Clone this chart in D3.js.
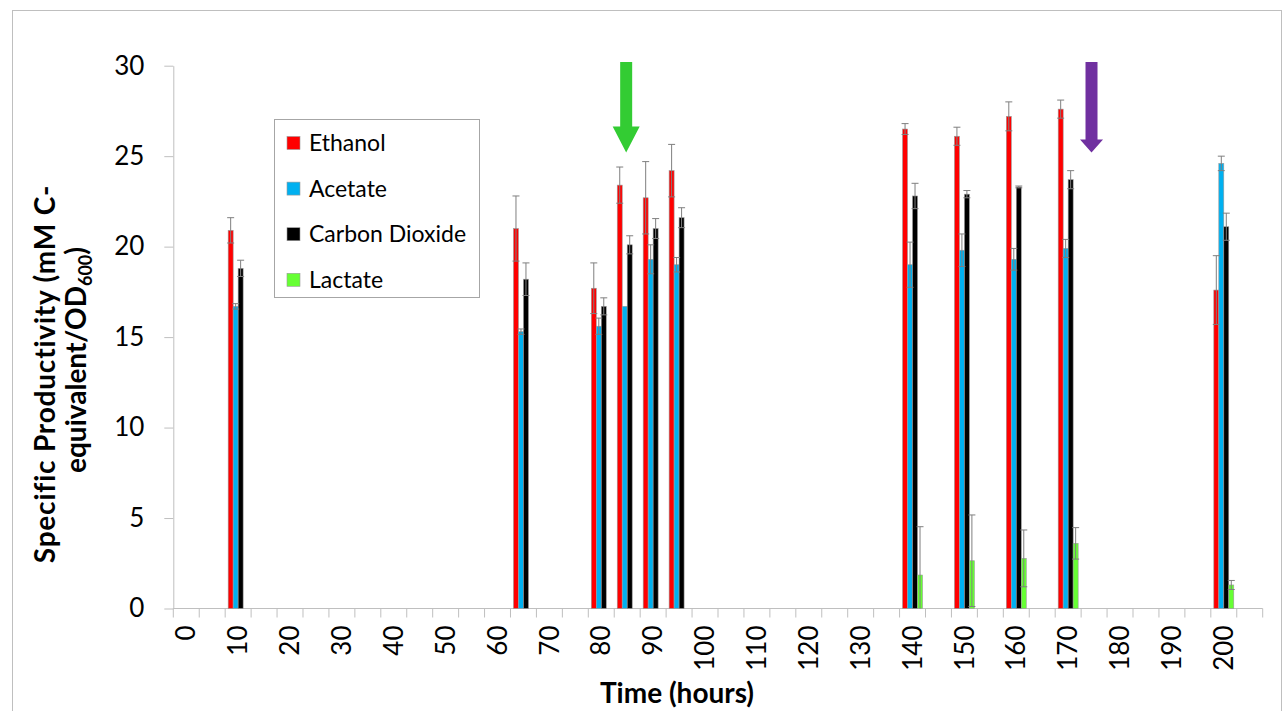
<!DOCTYPE html>
<html>
<head>
<meta charset="utf-8">
<script src="https://cdn.jsdelivr.net/npm/d3@7"></script>
<style>
  html, body { margin: 0; padding: 0; background: #fff; }
  svg { display: block; }
  text { font-family: Lato, "Open Sans", sans-serif; }
</style>
</head>
<body>
<svg id="chart" width="1286" height="711"></svg>
<script>
// ---- data ----
const times      = [10, 65, 80, 85, 90, 95, 140, 150, 160, 170, 200];
const ethanol    = [20.9, 21.0, 17.7, 23.4, 22.7, 24.2, 26.5, 26.1, 27.2, 27.6, 17.6];
const ethanolErr = [0.7, 1.8, 1.4, 1.0, 2.0, 1.45, 0.3, 0.5, 0.8, 0.5, 1.9];
const acetate    = [16.7, 15.3, 15.6, 16.7, 19.3, 19.0, 19.0, 19.8, 19.3, 19.9, 24.6];
const acetateErr = [0.15, 0.15, 0.45, 0, 0.8, 0.4, 1.25, 0.9, 0.6, 0.5, 0.4];
const co2        = [18.8, 18.2, 16.7, 20.1, 21.0, 21.6, 22.8, 22.9, 23.3, 23.7, 21.1];
const co2Err     = [0.45, 0.9, 0.47, 0.5, 0.55, 0.55, 0.7, 0.2, 0.05, 0.5, 0.75];
const lactate    = [0, 0, 0, 0, 0, 0, 1.85, 2.64, 2.77, 3.6, 1.3];
const lactateErr = [0, 0, 0, 0, 0, 0, 2.67, 2.53, 1.57, 0.87, 0.25];

const seriesNames  = ["Ethanol", "Acetate", "Carbon Dioxide", "Lactate"];
const seriesColors = ["#FF0000", "#00B0F0", "#000000", "#66FF33"];
const seriesValues = [ethanol, acetate, co2, lactate];
const seriesErrors = [ethanolErr, acetateErr, co2Err, lactateErr];

const categories = d3.range(0, 210, 5);          // 0,5,...,205 category slots
const xTickLabels = d3.range(0, 201, 10);         // labelled every 10 h
const yTicks = [0, 5, 10, 15, 20, 25, 30];

// annotation arrows (hours, from/to values)
const arrowHours  = [87.3, 177];
const arrowColors = ["#33CC33", "#7030A0"];
const arrowTop = 30.2, arrowTip = 25.2;

// ---- layout ----
const svg = d3.select("#chart");
const pLeft = 173.3, pRight = 1262.7, pTop = 65.7, pBottom = 608.5;

// outer frame
svg.append("rect").attr("x", 12.5).attr("y", 10.5).attr("width", 1269).attr("height", 720)
  .attr("fill", "none").attr("stroke", "#BFBFBF").attr("stroke-width", 1);

const x = d3.scaleBand().domain(categories).range([pLeft, pRight]).paddingInner(0).paddingOuter(0);
const xSub = d3.scaleBand().domain(seriesNames).range([0, x.bandwidth()]).paddingInner(0).paddingOuter(0.6);
const xLin = d3.scaleLinear().domain([0, 210]).range([pLeft, pRight]);
const y = d3.scaleLinear().domain([0, 30]).range([pBottom, pTop]);

// Y axis
const yAxis = svg.append("g").attr("transform", `translate(${pLeft},0)`)
  .call(d3.axisLeft(y).tickValues(yTicks).tickSize(9).tickPadding(20).tickSizeOuter(0));
yAxis.select(".domain").attr("stroke", "#BFBFBF");
yAxis.selectAll(".tick line").attr("stroke", "#BFBFBF");
yAxis.selectAll(".tick text").attr("font-size", 26).attr("fill", "#000")
  .attr("font-family", "Lato, sans-serif");

// X axis: tick marks at category boundaries
const xg = svg.append("g");
xg.append("line").attr("x1", pLeft).attr("x2", pRight).attr("y1", pBottom).attr("y2", pBottom)
  .attr("stroke", "#BFBFBF");
const boundaries = categories.map(c => x(c)).concat([pRight]);
xg.selectAll("line.tk").data(boundaries).join("line").attr("class", "tk")
  .attr("x1", d => d).attr("x2", d => d).attr("y1", pBottom).attr("y2", pBottom + 9)
  .attr("stroke", "#BFBFBF");
xg.selectAll("text.lbl").data(xTickLabels).join("text").attr("class", "lbl")
  .attr("transform", d => `translate(${x(d) + x.bandwidth() / 2},${pBottom + 17}) rotate(-90)`)
  .attr("text-anchor", "end").attr("dy", "0.35em")
  .attr("font-size", 26).attr("fill", "#000").text(d => d);

// bars
const bars = svg.append("g");
seriesNames.forEach((name, si) => {
  const vals = seriesValues[si];
  bars.selectAll(`rect.s${si}`).data(times.map((t, i) => ({ t, v: vals[i] })).filter(d => d.v > 0))
    .join("rect").attr("class", `s${si}`)
    .attr("x", d => x(d.t) + xSub(name))
    .attr("width", xSub.bandwidth())
    .attr("y", d => y(d.v))
    .attr("height", d => y(0) - y(d.v))
    .attr("fill", seriesColors[si])
    .attr("stroke", "#9A9A9A").attr("stroke-width", 0.6);
});

// error bars (lower end clipped at zero, as in the original)
const errs = svg.append("g").attr("stroke", "#7F7F7F").attr("stroke-width", 1);
seriesNames.forEach((name, si) => {
  const vals = seriesValues[si], ev = seriesErrors[si];
  times.forEach((t, i) => {
    if (!(vals[i] > 0) || !(ev[i] > 0)) return;
    const cx = x(t) + xSub(name) + xSub.bandwidth() / 2;
    const lo = vals[i] - ev[i];
    const y1 = y(vals[i] + ev[i]), y2 = y(Math.max(0, lo));
    errs.append("line").attr("x1", cx).attr("x2", cx).attr("y1", y1).attr("y2", y2);
    errs.append("line").attr("x1", cx - 3.5).attr("x2", cx + 3.5).attr("y1", y1).attr("y2", y1);
    if (lo >= 0) errs.append("line").attr("x1", cx - 3.5).attr("x2", cx + 3.5).attr("y1", y2).attr("y2", y2);
  });
});

// arrows
arrowHours.forEach((h, i) => {
  const cx = xLin(h), yT = y(arrowTop), yP = y(arrowTip);
  const sw = 6, hw = i === 0 ? 13.5 : 11.5, headLen = i === 0 ? 26 : 13;
  const p = d3.path();
  p.moveTo(cx - sw, yT); p.lineTo(cx + sw, yT); p.lineTo(cx + sw, yP - headLen);
  p.lineTo(cx + hw, yP - headLen); p.lineTo(cx, yP); p.lineTo(cx - hw, yP - headLen);
  p.lineTo(cx - sw, yP - headLen); p.closePath();
  svg.append("path").attr("d", p.toString()).attr("fill", arrowColors[i]);
});

// legend
const lg = svg.append("g");
lg.append("rect").attr("x", 274.5).attr("y", 119.5).attr("width", 205).attr("height", 178)
  .attr("fill", "#fff").attr("stroke", "#A6A6A6");
seriesNames.forEach((name, i) => {
  const cy = 143 + i * 45.6;
  lg.append("rect").attr("x", 287).attr("y", cy - 6.5).attr("width", 13).attr("height", 13)
    .attr("fill", seriesColors[i]).attr("stroke", "#9A9A9A").attr("stroke-width", 0.6);
  lg.append("text").attr("x", 309).attr("y", cy).attr("dy", "0.35em")
    .attr("font-size", 23).attr("fill", "#000").text(name);
});

// axis titles
svg.append("text").attr("x", 677).attr("y", 703).attr("text-anchor", "middle")
  .attr("font-size", 28).attr("font-weight", "bold").attr("fill", "#000").text("Time (hours)");

const yt1 = svg.append("text").attr("transform", "translate(55,374) rotate(-90)")
  .attr("text-anchor", "middle").attr("font-size", 28).attr("font-weight", "bold")
  .attr("letter-spacing", 0.8).attr("fill", "#000").text("Specific Productivity (mM C-");
const yt2 = svg.append("text").attr("transform", "translate(86,360) rotate(-90)")
  .attr("text-anchor", "middle").attr("font-size", 28).attr("font-weight", "bold").attr("fill", "#000");
yt2.append("tspan").text("equivalent/OD");
yt2.append("tspan").attr("font-size", 18).attr("dy", 6).text("600");
yt2.append("tspan").attr("dy", -6).text(")");
</script>
</body>
</html>
